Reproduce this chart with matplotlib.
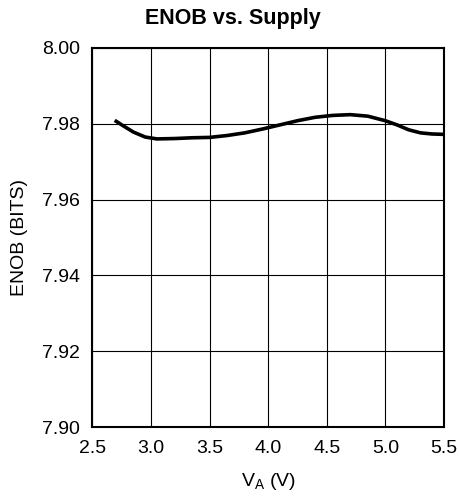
import numpy as np
import matplotlib.pyplot as plt

plt.rcParams['font.family'] = ['Liberation Sans', 'DejaVu Sans']

# supply voltage (V) and ENOB (bits)
supply_v = [2.69, 2.75, 2.85, 2.95, 3.05, 3.2, 3.35, 3.5, 3.65, 3.8, 3.95, 4.1, 4.25,
            4.4, 4.55, 4.7, 4.85, 5.0, 5.1, 5.2, 5.3, 5.4, 5.5]
enob = [7.9809, 7.9797, 7.9778, 7.9765, 7.9760, 7.9761, 7.9763, 7.9764, 7.9769, 7.9776,
        7.9786, 7.9797, 7.9808, 7.9817, 7.9822, 7.9824, 7.9820, 7.9808, 7.9797, 7.9784,
        7.9776, 7.9773, 7.9772]

x_ticks = [2.5, 3.0, 3.5, 4.0, 4.5, 5.0, 5.5]
y_ticks = [7.90, 7.92, 7.94, 7.96, 7.98, 8.00]

fig = plt.figure(figsize=(4.6, 4.99), dpi=100)
ax = fig.add_axes([0.201, 0.144, 0.764, 0.760])

ax.plot(supply_v, enob, color='black', linewidth=2.6, solid_capstyle='butt')

ax.set_xlim(2.5, 5.5)
ax.set_ylim(7.90, 8.00)
ax.set_xticks(x_ticks)
ax.set_yticks(y_ticks)
ax.set_xticklabels(['%.1f' % v for v in x_ticks])
ax.set_yticklabels(['%.2f' % v for v in y_ticks])
ax.grid(True, color='black', linewidth=0.8)
ax.tick_params(length=0, labelsize=14)
ax.tick_params(axis='y', pad=9)
ax.tick_params(axis='x', pad=9)
for s in ax.spines.values():
    s.set_linewidth(1.5)

ax.set_xlabel('V$_\\mathregular{A}$ (V)', fontsize=14, labelpad=10)
ax.set_ylabel('ENOB (BITS)', fontsize=14, labelpad=10)
fig.text(0.507, 0.952, 'ENOB vs. Supply', fontsize=15.5, fontweight='bold',
         ha='center', va='baseline')

fig.savefig('out.png', dpi=100)
